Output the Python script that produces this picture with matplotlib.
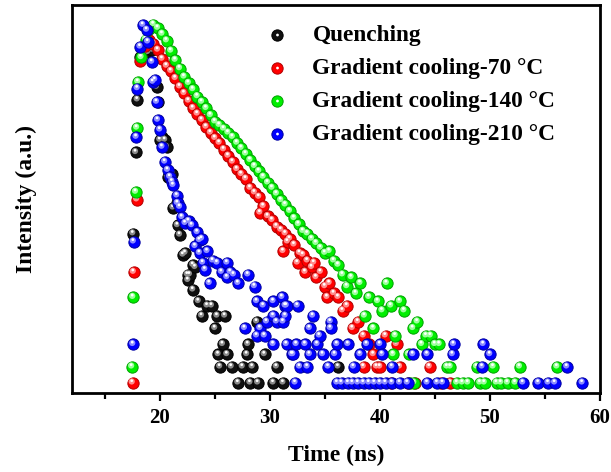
import matplotlib
matplotlib.use('Agg')
import matplotlib.pyplot as plt
from matplotlib.transforms import offset_copy
from matplotlib.legend_handler import HandlerTuple
from matplotlib.ticker import MultipleLocator, NullLocator
import numpy as np

plt.rcParams['font.family'] = ['Liberation Serif', 'DejaVu Serif']
plt.rcParams['font.weight'] = 'bold'

# decay data: time (ns) and counts
quench_t = [17.55, 17.8, 17.95, 18.2, 18.6, 18.9, 19.1, 19.3, 19.7, 19.8, 20.0, 20.2,
            20.45, 20.6, 20.7, 21.1, 21.2, 21.55, 21.6, 21.8, 22.1, 22.3, 22.5, 22.55,
            22.7, 23.0, 23.2, 23.0, 23.5, 23.8, 24.3, 24.7, 25.0, 25.2, 25.3, 25.45,
            25.7, 25.9, 26.1, 26.5, 27.1, 27.5, 27.9, 28.0, 28.2, 28.4, 28.8, 28.9,
            29.5, 30.3, 30.6, 31.2, 36.2]
quench_c = [44, 190, 490, 1050, 1300, 1150, 1250, 1200, 615, 470, 237, 250,
            237, 209, 122, 130, 70, 76, 51, 43, 30, 31, 21, 19,
            21, 25, 24, 16, 13, 10, 12, 12, 8, 10, 5, 4,
            6, 10, 5, 4, 3, 4, 5, 6, 3, 4, 9, 3,
            5, 3, 4, 3, 4]

red_t = [17.5, 17.6, 17.9, 18.2, 18.6, 19.0, 19.4, 19.8, 20.2, 20.6, 21.0, 21.4,
         21.8, 22.2, 22.6, 23.0, 23.4, 23.8, 24.2, 24.6, 25.0, 25.4, 25.8, 26.2,
         26.6, 27.0, 27.4, 27.8, 28.2, 28.6, 29.0, 29.1, 29.4, 29.8, 30.2, 30.6,
         31.0, 31.2, 31.4, 31.6, 31.8, 32.2, 32.5, 32.7, 33.0, 33.2, 33.4, 33.8,
         34.0, 34.2, 34.6, 35.0, 35.2, 35.4, 35.8, 36.2, 36.6, 37.0, 37.5, 38.0,
         38.5, 38.5, 39.0, 39.4, 39.7, 40.0, 40.5, 41.0, 41.5, 41.8, 42.5, 43.2,
         44.5, 45.5, 46.4]
red_c = [3, 22, 81, 990, 1300, 1430, 1350, 1200, 1020, 900, 820, 720,
         620, 550, 480, 420, 380, 340, 300, 270, 245, 225, 200, 178,
         160, 140, 128, 118, 100, 92, 85, 64, 72, 60, 56, 50,
         47, 32, 44, 38, 40, 36, 26, 31, 30, 22, 27, 24,
         26, 20, 22, 17, 14, 18, 15, 14, 11, 12, 8, 9,
         7, 4, 6, 5, 4, 4, 7, 3, 6, 4, 3, 3,
         4, 3, 3]

green_t = [17.45, 17.55, 17.8, 17.9, 18.0, 18.3, 18.7, 19.0, 19.4, 19.8, 20.2, 20.6,
           21.0, 21.4, 21.8, 22.2, 22.6, 23.0, 23.4, 23.8, 24.2, 24.6, 25.0, 25.4,
           25.8, 26.2, 26.6, 27.0, 27.4, 27.8, 28.2, 28.6, 29.0, 29.4, 29.8, 30.2,
           30.6, 31.0, 31.4, 31.8, 32.2, 32.6, 33.0, 33.4, 33.8, 34.2, 34.6, 35.0,
           35.4, 35.8, 36.2, 36.6, 37.0, 37.4, 37.8, 38.2, 38.6, 39.0, 39.4, 39.8,
           40.2, 40.6, 41.0, 41.2, 41.4, 41.8, 42.2, 42.6, 42.7, 43.0, 43.1, 43.4,
           43.8, 44.2, 44.6, 45.0, 45.4, 46.1, 46.4, 47.0, 47.5, 48.0, 48.8, 49.1,
           49.5, 50.3, 50.6, 51.0, 51.6, 52.3, 52.7, 56.1]
green_c = [4, 14, 93, 295, 674, 1050, 1450, 1750, 1900, 1780, 1600, 1420,
           1180, 1000, 860, 740, 660, 590, 520, 470, 420, 370, 330, 310,
           290, 270, 250, 225, 205, 185, 165, 148, 135, 122, 110, 100,
           90, 80, 74, 66, 58, 52, 46, 44, 40, 37, 34, 31,
           32, 27, 25, 21, 17, 20, 15, 18, 10, 14, 8, 13,
           11, 18, 12, 5, 7, 13, 11, 5, 3, 8, 3, 9,
           6, 7, 7, 6, 6, 4, 4, 3, 3, 3, 4, 3,
           3, 4, 3, 3, 3, 3, 4, 4]

blue_t = [17.55, 17.6, 17.85, 17.95, 18.2, 18.45, 18.8, 18.9, 19.27, 19.36, 19.55, 19.7,
          19.8, 20.0, 20.2, 20.45, 20.7, 20.9, 21.1, 21.2, 21.55, 21.6, 21.8, 22.0,
          22.3, 22.6, 22.9, 23.2, 23.4, 23.6, 23.6, 23.8, 23.9, 24.1, 24.3, 24.5,
          24.8, 25.2, 25.6, 26.1, 26.1, 26.4, 26.7, 27.1, 27.7, 28.0, 28.6, 28.8,
          28.8, 29.1, 29.4, 29.5, 29.7, 30.3, 30.3, 30.3, 30.6, 31.1, 31.2,
          31.4, 31.4, 31.5, 31.5, 32.0, 32.1, 32.3, 32.4, 32.5, 32.7, 33.2, 33.4,
          33.6, 33.6, 33.9, 34.3, 34.5, 34.8, 35.3, 35.5, 35.5, 35.9, 36.1, 36.1,
          36.5, 37.1, 37.1, 37.5, 37.6, 38.0, 38.2, 38.5, 38.8, 39.0, 39.5, 40.0,
          40.0, 40.2, 40.5, 41.1, 41.1, 41.8, 42.5, 43.0, 44.3, 44.3, 45.2, 45.7,
          46.6, 46.7, 49.3, 49.4, 50.0, 53.0, 54.4, 55.3, 55.9, 57.0, 58.4]
blue_c = [6, 38, 250, 600, 1270, 1880, 1720, 1390, 966, 674, 700, 470,
          340, 285, 209, 160, 138, 122, 112, 105, 87, 76, 71, 59,
          53, 55, 51, 35, 45, 39, 31, 40, 26, 23, 32, 18,
          27, 26, 22, 26, 20, 22, 21, 18, 8, 21, 17, 13,
          7, 8, 12, 7, 9, 13, 10, 6, 9, 14, 9,
          12, 10, 6, 12, 5, 5, 3, 6, 12, 4, 6, 4,
          8, 5, 10, 6, 7, 5, 4, 9, 8, 5, 6, 3,
          3, 6, 3, 3, 4, 3, 5, 3, 6, 3, 3, 6,
          3, 5, 3, 4, 3, 3, 3, 5, 5, 3, 3, 3,
          5, 6, 4, 6, 5, 3, 3, 3, 3, 4, 3]

labels = ['Quenching', 'Gradient cooling-70 \u00b0C',
          'Gradient cooling-140 \u00b0C', 'Gradient cooling-210 \u00b0C']
series = [(quench_t, quench_c), (red_t, red_c), (green_t, green_c), (blue_t, blue_c)]
base_cols = ['#101010', '#ff0000', '#00ee00', '#0000ff']
edge_cols = ['#000000', '#b00000', '#00a000', '#0000a0']
mid_cols = ['#8a8a8a', '#ff8c8c', '#9cff9c', '#8c8cff']

fig = plt.figure(figsize=(6.11, 4.72), dpi=100)
ax = fig.add_axes([72 / 611, 1 - 393 / 472, 528 / 611, 388 / 472])

mid_tr = offset_copy(ax.transData, fig=fig, x=-0.8, y=1.4, units='dots')
hi_tr = offset_copy(ax.transData, fig=fig, x=-0.8, y=2.2, units='dots')

handles = []
for i, (t, c) in enumerate(series):
    z = 3 + i
    b = ax.scatter(t, c, s=66, c=base_cols[i], edgecolors=edge_cols[i],
                   linewidths=0.7, zorder=z)
    ax.scatter(t, c, s=20, c=mid_cols[i], edgecolors='none',
               transform=mid_tr, zorder=z + 0.3)
    h = ax.scatter(t, c, s=4, c='white', edgecolors='none',
                   transform=hi_tr, zorder=z + 0.6)
    handles.append((b, h))

ax.set_yscale('log')
ax.set_ylim(2.5, 2700)
ax.set_xlim(12, 60)
ax.yaxis.set_major_locator(NullLocator())
ax.yaxis.set_minor_locator(NullLocator())
ax.xaxis.set_major_locator(MultipleLocator(10))
ax.xaxis.set_minor_locator(MultipleLocator(5))
ax.tick_params(axis='x', which='major', direction='out', length=6, width=1.6,
               labelsize=15, pad=5)
ax.tick_params(axis='x', which='minor', direction='out', length=4, width=1.6)
for sp in ax.spines.values():
    sp.set_linewidth(2)

ax.set_xlabel('Time (ns)', fontsize=17, fontweight='bold', labelpad=12)
ax.set_ylabel('Intensity (a.u.)', fontsize=17, fontweight='bold', labelpad=25)

ax.legend(handles, labels, handler_map={tuple: HandlerTuple(ndivide=1, pad=0)},
          loc='upper left', bbox_to_anchor=(0.345, 0.973), frameon=False,
          fontsize=16.8, handletextpad=0.9, labelspacing=0.5, handlelength=1.2,
          borderaxespad=0)

fig.savefig('out.png', dpi=100)
